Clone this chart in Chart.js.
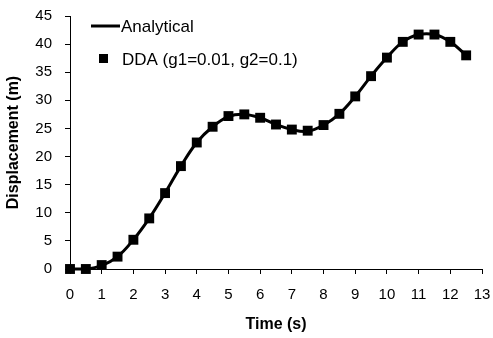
<!DOCTYPE html>
<html>
<head>
<meta charset="utf-8">
<script src="https://cdn.jsdelivr.net/npm/chart.js@4/dist/chart.umd.min.js"></script>
<style>
  html, body { margin: 0; padding: 0; background: #fff; }
  #wrap { width: 493px; height: 338px; }
</style>
</head>
<body>
<div id="wrap"><canvas id="chart" width="493" height="338"></canvas></div>
<script>
// time (s) and displacement (m)
const times = [0, 0.5, 1, 1.5, 2, 2.5, 3, 3.5, 4, 4.5, 5, 5.5, 6, 6.5, 7, 7.5, 8, 8.5, 9, 9.5, 10, 10.5, 11, 11.5, 12, 12.5];
const analytical = [0, 0, 0.6, 2.2, 5.2, 9.0, 13.5, 18.3, 22.5, 25.3, 27.1, 27.5, 26.9, 25.7, 24.8, 24.5, 25.6, 27.6, 30.7, 34.3, 37.6, 40.4, 41.7, 41.7, 40.4, 38.0];
const dda = [0, 0, 0.7, 2.2, 5.2, 9.0, 13.5, 18.3, 22.5, 25.3, 27.2, 27.5, 26.9, 25.7, 24.8, 24.6, 25.6, 27.6, 30.7, 34.3, 37.6, 40.4, 41.7, 41.7, 40.4, 38.0];
const yTicks = [0, 5, 10, 15, 20, 25, 30, 35, 40, 45];
const xTicks = [0, 1, 2, 3, 4, 5, 6, 7, 8, 9, 10, 11, 12, 13];

const font = 'Arial, "Liberation Sans", sans-serif';

// legend drawn inside the plot, top left
const insideLegend = {
  id: 'insideLegend',
  afterDraw(chart) {
    const ctx = chart.ctx;
    ctx.save();
    ctx.fillStyle = '#000';
    ctx.strokeStyle = '#000';
    ctx.font = '17px ' + font;
    ctx.textBaseline = 'middle';
    // Analytical
    ctx.lineWidth = 3;
    ctx.beginPath();
    ctx.moveTo(91, 26);
    ctx.lineTo(120, 26);
    ctx.stroke();
    ctx.fillText(chart.data.datasets[0].label, 121, 27);
    // DDA
    ctx.fillRect(99, 54, 9, 9);
    ctx.fillText(chart.data.datasets[1].label, 122, 60);
    ctx.restore();
  }
};

const ctx = document.getElementById('chart').getContext('2d');
new Chart(ctx, {
  type: 'scatter',
  data: {
    datasets: [{
      label: 'Analytical',
      data: times.map((t, i) => ({ x: t, y: analytical[i] })),
      showLine: true,
      borderColor: '#000',
      borderWidth: 3,
      tension: 0.4,
      pointRadius: 0,
      clip: false
    }, {
      label: 'DDA (g1=0.01, g2=0.1)',
      data: times.map((t, i) => ({ x: t, y: dda[i] })),
      showLine: false,
      pointStyle: 'rect',
      pointRadius: 7,
      pointBorderWidth: 0,
      backgroundColor: '#000',
      borderColor: '#000',
      clip: false
    }]
  },
  options: {
    responsive: false,
    animation: false,
    layout: { padding: { top: 16, right: 11, bottom: 0, left: 0 } },
    plugins: {
      legend: { display: false },
      tooltip: { enabled: false }
    },
    scales: {
      x: {
        type: 'linear',
        min: 0,
        max: 13,
        afterBuildTicks: axis => { axis.ticks = xTicks.map(v => ({ value: v })); },
        grid: { drawOnChartArea: false, drawTicks: true, tickLength: 5, color: '#000' },
        border: { color: '#000', width: 1 },
        ticks: { color: '#000', font: { family: font, size: 15 }, padding: 12, maxRotation: 0 },
        title: { display: true, text: 'Time (s)', color: '#000', font: { family: font, size: 16, weight: 'bold' }, padding: { top: 8 } },
        afterFit: axis => { axis.height = 69; axis.paddingLeft = 0; axis.paddingRight = 0; }
      },
      y: {
        min: 0,
        max: 45,
        afterBuildTicks: axis => { axis.ticks = yTicks.map(v => ({ value: v })); },
        grid: { drawOnChartArea: false, drawTicks: true, tickLength: 5, color: '#000' },
        border: { color: '#000', width: 1 },
        ticks: { color: '#000', font: { family: font, size: 15 }, padding: 13 },
        title: { display: true, text: 'Displacement (m)', color: '#000', font: { family: font, size: 16, weight: 'bold' }, padding: { top: 4, bottom: 4 } },
        afterFit: axis => { axis.width = 70; axis.paddingTop = 0; axis.paddingBottom = 0; }
      }
    }
  },
  plugins: [insideLegend]
});
</script>
</body>
</html>
